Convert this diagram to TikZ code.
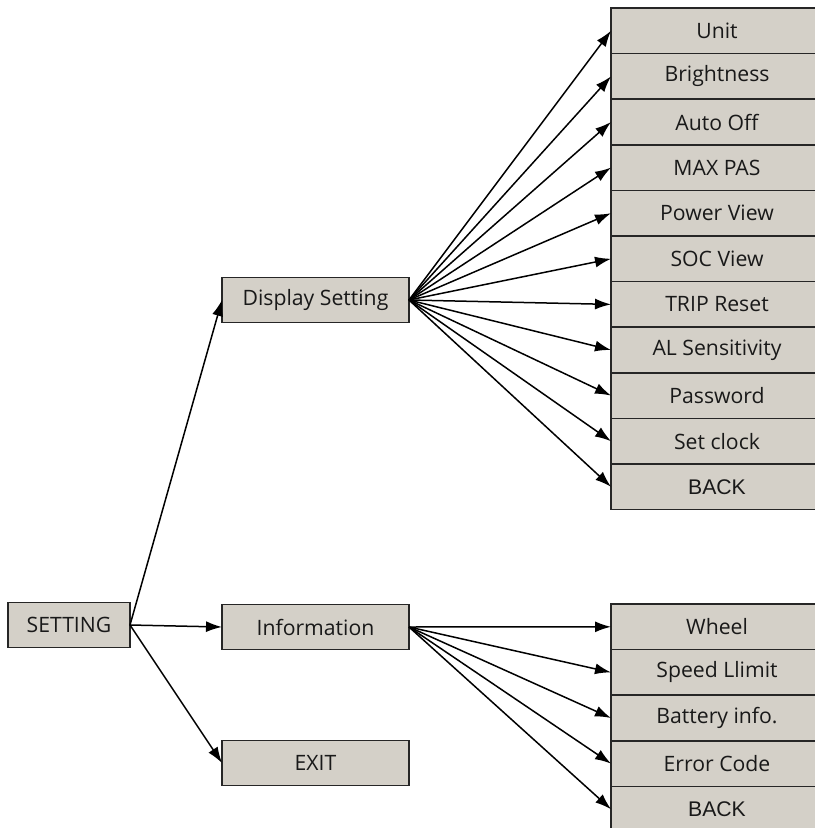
\documentclass[tikz,border=0pt]{standalone}
\usepackage{fontspec}
\setmainfont{Open Sans}
\newfontfamily\backfont{Liberation Sans}
\usetikzlibrary{arrows.meta,positioning}
\definecolor{menugray}{RGB}{212,208,200}

\begin{document}
\begin{tikzpicture}[->,>={Latex[length=8pt,width=5.5pt]},line width=0.75pt,
  menu node/.style={rectangle,draw=black!85,line width=0.8pt,fill=menugray,inner sep=0pt,outer sep=0pt,
    minimum height=22.6pt,text=black!90,font=\fontsize{10.6}{12}\selectfont},
  main node/.style={menu node,minimum width=93.5pt},
  item node/.style={menu node,minimum width=106pt,minimum height=22.8pt}]

 \useasboundingbox (0,0) rectangle (407pt,-414pt);

 \node[menu node,minimum width=61pt] (setting) at (34.5pt,-312.5pt) {SETTING};
 \node[main node] (display) at (157.75pt,-150pt) {Display Setting};
 \node[main node] (info) at (157.75pt,-313.5pt) {Information};
 \node[main node] (exit) at (157.75pt,-381.5pt) {EXIT};

 % display setting column
 \node[item node,anchor=north west] (unit) at (305.5pt,-4pt) {Unit};
 \node[item node] (bright) [below=0pt of unit] {Brightness};
 \node[item node] (autooff) [below=0pt of bright] {Auto Off};
 \node[item node] (maxpas) [below=0pt of autooff] {MAX PAS};
 \node[item node] (power) [below=0pt of maxpas] {Power View};
 \node[item node] (soc) [below=0pt of power] {SOC View};
 \node[item node] (trip) [below=0pt of soc] {TRIP Reset};
 \node[item node] (alsens) [below=0pt of trip] {AL Sensitivity};
 \node[item node] (passwd) [below=0pt of alsens] {Password};
 \node[item node] (clock) [below=0pt of passwd] {Set clock};
 \node[item node] (back1) [below=0pt of clock] {\backfont BACK};

 % information column
 \node[item node,anchor=north west] (wheel) at (305.5pt,-302pt) {Wheel};
 \node[item node] (speed) [below=0pt of wheel] {Speed Llimit};
 \node[item node] (battery) [below=0pt of speed] {Battery info.};
 \node[item node] (error) [below=0pt of battery] {Error Code};
 \node[item node] (back2) [below=0pt of error] {\backfont BACK};

 \path
    (setting.east) edge (display.west)
    (setting.east) edge (info.west)
    (setting.east) edge (exit.west);

 \path
    (display.east) edge (unit.west)
    (display.east) edge (bright.west)
    (display.east) edge (autooff.west)
    (display.east) edge (maxpas.west)
    (display.east) edge (power.west)
    (display.east) edge (soc.west)
    (display.east) edge (trip.west)
    (display.east) edge (alsens.west)
    (display.east) edge (passwd.west)
    (display.east) edge (clock.west)
    (display.east) edge (back1.west);

 \path
    (info.east) edge (wheel.west)
    (info.east) edge (speed.west)
    (info.east) edge (battery.west)
    (info.east) edge (error.west)
    (info.east) edge (back2.west);

\end{tikzpicture}
\end{document}
